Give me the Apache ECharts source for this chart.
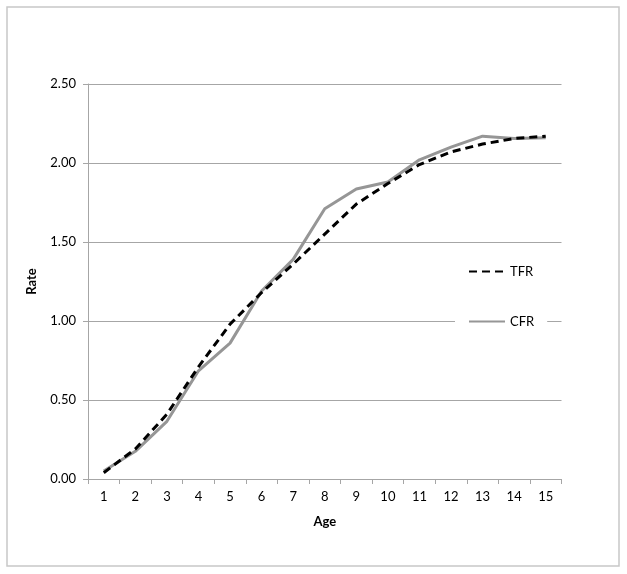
<!DOCTYPE html>
<html>
<head>
<meta charset="utf-8">
<script src="https://cdn.jsdelivr.net/npm/echarts@6/dist/echarts.min.js"></script>
<style>
html,body{margin:0;padding:0;background:#fff;}
#chart{width:627px;height:574px;}
</style>
</head>
<body>
<div id="chart"></div>
<script>
var ages = ['1','2','3','4','5','6','7','8','9','10','11','12','13','14','15'];
var tfr = [0.04, 0.19, 0.41, 0.71, 0.98, 1.18, 1.36, 1.55, 1.74, 1.87, 1.99, 2.07, 2.12, 2.155, 2.17];
var cfr = [0.05, 0.175, 0.365, 0.685, 0.86, 1.19, 1.39, 1.71, 1.835, 1.88, 2.02, 2.10, 2.17, 2.155, 2.16];
var yTicks = ['0.00','0.50','1.00','1.50','2.00','2.50'];

var font = 'Lato, "Liberation Sans", sans-serif';
var chart = echarts.init(document.getElementById('chart'));
chart.setOption({
  animation: false,
  backgroundColor: '#fff',
  graphic: [{
    type: 'rect',
    shape: {x: 7, y: 7, width: 612, height: 559},
    style: {fill: 'none', stroke: '#c8c8c8', lineWidth: 1.5},
    silent: true
  }],
  grid: {left: 88, right: 65.5, top: 84, bottom: 95},
  legend: {
    orient: 'vertical',
    left: 455,
    top: 257,
    padding: [8, 13, 8, 13],
    backgroundColor: '#fff',
    itemWidth: 36,
    itemHeight: 14,
    itemGap: 37,
    itemStyle: {opacity: 0},
    textStyle: {fontFamily: font, fontSize: 13, color: '#000'},
    data: ['TFR', 'CFR']
  },
  xAxis: {
    type: 'category',
    data: ages,
    boundaryGap: true,
    name: 'Age',
    nameLocation: 'middle',
    nameGap: 36,
    nameTextStyle: {fontFamily: font, fontSize: 13, fontWeight: 'bold', color: '#000'},
    axisLine: {lineStyle: {color: '#a6a6a6', width: 1}},
    axisTick: {show: true, length: 5, alignWithLabel: false, lineStyle: {color: '#a6a6a6'}},
    axisLabel: {fontFamily: font, fontSize: 13, color: '#000', margin: 11},
    splitLine: {show: false}
  },
  yAxis: {
    type: 'value',
    min: 0,
    max: 2.5,
    interval: 0.5,
    name: 'Rate',
    nameLocation: 'middle',
    nameGap: 50,
    nameRotate: 90,
    nameTextStyle: {fontFamily: font, fontSize: 13, fontWeight: 'bold', color: '#000'},
    axisLine: {show: true, lineStyle: {color: '#a6a6a6', width: 1}},
    axisTick: {show: true, length: 5, lineStyle: {color: '#a6a6a6'}},
    axisLabel: {
      fontFamily: font, fontSize: 13, color: '#000', margin: 12,
      formatter: function (v) { return yTicks[Math.round(v / 0.5)]; }
    },
    splitLine: {show: true, lineStyle: {color: '#a6a6a6', width: 1}}
  },
  series: [
    {
      name: 'TFR',
      type: 'line',
      data: tfr,
      symbol: 'none',
      z: 3,
      lineStyle: {color: '#000', width: 3, type: [8, 5]},
      itemStyle: {color: '#000'}
    },
    {
      name: 'CFR',
      type: 'line',
      data: cfr,
      symbol: 'none',
      z: 2,
      lineStyle: {color: '#969696', width: 3},
      itemStyle: {color: '#969696'}
    }
  ]
});
</script>
</body>
</html>
